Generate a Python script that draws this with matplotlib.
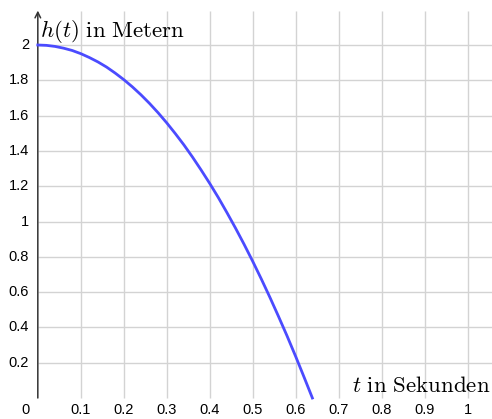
import matplotlib.pyplot as plt
import numpy as np

plt.rcParams['mathtext.fontset'] = 'cm'

# time in s and height in m
t_vals = [0, 0.02, 0.04, 0.06, 0.08, 0.10, 0.12, 0.14, 0.16, 0.18, 0.20,
          0.22, 0.24, 0.26, 0.28, 0.30, 0.32, 0.34, 0.36, 0.38, 0.40,
          0.42, 0.44, 0.46, 0.48, 0.50, 0.52, 0.54, 0.56, 0.58, 0.60,
          0.62, 0.639]
h_vals = [2.000, 1.998, 1.992, 1.982, 1.969, 1.951, 1.929, 1.904, 1.875, 1.841, 1.804,
          1.763, 1.718, 1.669, 1.616, 1.559, 1.498, 1.434, 1.365, 1.292, 1.216,
          1.136, 1.051, 0.963, 0.871, 0.775, 0.675, 0.571, 0.463, 0.352, 0.236,
          0.116, 0.0]

x_ticks = [0.1, 0.2, 0.3, 0.4, 0.5, 0.6, 0.7, 0.8, 0.9, 1.0]
x_labels = ['0.1', '0.2', '0.3', '0.4', '0.5', '0.6', '0.7', '0.8', '0.9', '1']
y_ticks = [0.2, 0.4, 0.6, 0.8, 1.0, 1.2, 1.4, 1.6, 1.8, 2.0]
y_labels = ['0.2', '0.4', '0.6', '0.8', '1', '1.2', '1.4', '1.6', '1.8', '2']

fig = plt.figure(figsize=(4.92, 4.19), dpi=100)
ax = fig.add_axes([0, 0, 1, 1])
ax.set_xlim(-0.088, 1.057)
ax.set_ylim(-0.119, 2.255)

# grid only in the first quadrant
ax.vlines(x_ticks + [1.1], 0, 2.19, color='#d3d3d3', lw=1, zorder=0)
ax.hlines(y_ticks, 0, 1.1, color='#d3d3d3', lw=1, zorder=0)

for s in ax.spines.values():
    s.set_visible(False)
ax.set_xticks([])
ax.set_yticks([])

# axes with arrows
ax.annotate('', xy=(1.07, 0), xytext=(0, 0),
            arrowprops=dict(arrowstyle='->', color='#333333', lw=1.1, shrinkA=0, shrinkB=0))
ax.annotate('', xy=(0, 2.195), xytext=(0, 0),
            arrowprops=dict(arrowstyle='->', color='#333333', lw=1.1, shrinkA=0, shrinkB=0))

ax.plot(t_vals, h_vals, color='#4b4bff', lw=2, zorder=3)

tick_font = dict(family='Liberation Sans', fontsize=10.5, color='black')
for x, lab in zip(x_ticks, x_labels):
    ax.text(x, -0.03, lab, ha='center', va='top', **tick_font)
for y, lab in zip(y_ticks, y_labels):
    ax.text(-0.02, y, lab, ha='right', va='center', **tick_font)
ax.text(-0.02, -0.03, '0', ha='right', va='top', **tick_font)

ax.text(0.004, 2.045, r'$h(t)\ \mathrm{in\ Metern}$', fontsize=16.5, ha='left', va='baseline')
ax.text(0.732, 0.035, r'$t\ \mathrm{in\ Sekunden}$', fontsize=16.5, ha='left', va='baseline')

fig.savefig('out.png', dpi=100)
